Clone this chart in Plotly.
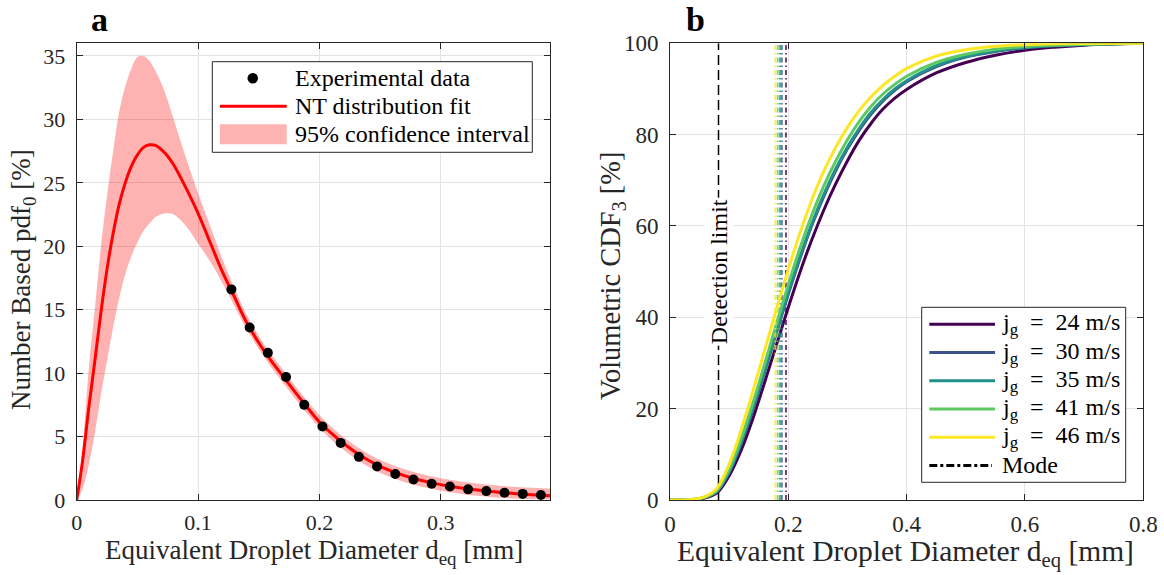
import plotly.graph_objects as go

FONT = "'Liberation Serif', 'Times New Roman', Tinos, 'DejaVu Serif', serif"
DARK = "#262626"
GRID = "#e3e3e3"
W, H = 1164, 575

# ---------------- Panel a data ----------------
pdf_x = [0, 0.005, 0.01, 0.015, 0.02, 0.025, 0.03, 0.035, 0.04, 0.045, 0.05, 0.055,
         0.06, 0.065, 0.07, 0.075, 0.08, 0.09, 0.10, 0.11, 0.12, 0.13, 0.14, 0.15,
         0.16, 0.17, 0.18, 0.19, 0.20, 0.21, 0.22, 0.23, 0.24, 0.25, 0.26, 0.27,
         0.28, 0.29, 0.30, 0.31, 0.32, 0.33, 0.34, 0.35, 0.36, 0.37, 0.38, 0.39]
fit_y = [0, 3.2, 7.3, 11.0, 14.8, 18.2, 21.0, 23.3, 25.0, 26.3, 27.2, 27.8,
         28.0, 27.95, 27.6, 27.1, 26.4, 24.6, 22.6, 20.3, 18.0, 16.0, 14.0, 12.4,
         11.0, 9.75, 8.5, 7.3, 6.15, 5.25, 4.45, 3.75, 3.15, 2.65, 2.25, 1.92,
         1.64, 1.41, 1.21, 1.05, 0.91, 0.79, 0.69, 0.60, 0.52, 0.45, 0.39, 0.34]
ci_upper = [0, 4.3, 10.4, 15.1, 20.0, 24.0, 27.5, 30.6, 32.6, 34.0, 34.9, 35.0,
            34.6, 33.8, 32.8, 31.5, 30.0, 27.0, 24.2, 21.6, 19.0, 16.7, 14.6, 12.95,
            11.5, 10.25, 9.0, 7.8, 6.7, 5.75, 4.95, 4.25, 3.65, 3.15, 2.76, 2.43,
            2.15, 1.92, 1.72, 1.56, 1.42, 1.30, 1.20, 1.11, 1.04, 0.98, 0.94, 0.91]
ci_lower = [0, 0.9, 2.8, 5.3, 8.3, 11.0, 13.6, 15.9, 17.8, 19.2, 20.3, 21.2,
            21.8, 22.3, 22.55, 22.6, 22.5, 21.6, 20.2, 18.8, 17.1, 15.3, 13.45, 11.9,
            10.5, 9.25, 8.0, 6.8, 5.7, 4.75, 3.95, 3.25, 2.65, 2.15, 1.75, 1.42,
            1.14, 0.92, 0.72, 0.57, 0.44, 0.33, 0.24, 0.17, 0.12, 0.08, 0.05, 0.03]
exp_x = [0.1275, 0.1425, 0.1575, 0.1725, 0.1875, 0.2025, 0.2175, 0.2325, 0.2475,
         0.2625, 0.2775, 0.2925, 0.3075, 0.3225, 0.3375, 0.3525, 0.3675, 0.3825]
exp_y = [16.6, 13.6, 11.6, 9.7, 7.5, 5.8, 4.5, 3.4, 2.65, 2.05, 1.62, 1.28,
         1.07, 0.84, 0.70, 0.57, 0.48, 0.40]
legend_a_labels = ["Experimental data", "NT distribution fit", "95% confidence interval"]

# ---------------- Panel b data ----------------
cdf_x = [0, 0.02, 0.04, 0.05, 0.06, 0.07, 0.08, 0.10, 0.12, 0.14, 0.16, 0.18, 0.20,
         0.22, 0.24, 0.26, 0.28, 0.30, 0.32, 0.34, 0.36, 0.38, 0.40, 0.45, 0.50,
         0.55, 0.60, 0.65, 0.70, 0.75, 0.80]
cdf_24 = [0, 0, 0.1, 0.25, 0.5, 0.9, 1.6, 5.3, 10.8, 17.8, 25.8, 34.0, 42.2,
          50.0, 57.1, 63.5, 69.2, 74.3, 78.8, 82.5, 85.6, 88.0, 89.9, 93.5, 95.8,
          97.4, 98.5, 99.15, 99.6, 99.85, 100]
cdf_30 = [0, 0, 0.12, 0.3, 0.6, 1.1, 1.95, 6.0, 12.2, 19.7, 28.0, 36.6, 45.1,
          53.0, 60.2, 66.5, 72.1, 76.9, 81.0, 84.5, 87.4, 89.7, 91.6, 94.9, 97.0,
          98.2, 99.0, 99.45, 99.7, 99.9, 100]
cdf_35 = [0, 0, 0.12, 0.3, 0.62, 1.15, 2.0, 6.2, 12.5, 20.1, 28.4, 37.0, 45.5,
          53.4, 60.6, 66.9, 72.5, 77.3, 81.4, 84.9, 87.7, 90.0, 91.8, 95.1, 97.1,
          98.3, 99.05, 99.5, 99.75, 99.9, 100]
cdf_41 = [0, 0, 0.15, 0.33, 0.68, 1.25, 2.2, 6.7, 13.3, 21.2, 29.8, 38.6, 47.2,
          55.3, 62.5, 68.8, 74.2, 78.9, 82.9, 86.2, 88.9, 91.0, 92.8, 95.8, 97.6,
          98.7, 99.3, 99.6, 99.8, 99.92, 100]
cdf_46 = [0, 0, 0.18, 0.4, 0.8, 1.5, 2.7, 7.8, 15.2, 23.8, 32.8, 41.8, 50.5,
          58.6, 65.8, 72.0, 77.2, 81.6, 85.3, 88.3, 90.8, 92.8, 94.5, 97.2, 98.6,
          99.35, 99.7, 99.88, 99.95, 99.98, 100]
jg_labels = ["24", "30", "35", "41", "46"]
mode_x = [0.196, 0.189, 0.186, 0.182, 0.178]
detection_limit = 0.082
colors = ["#440154", "#3b528b", "#21918c", "#5ec962", "#fde725"]
cdfs = [cdf_24, cdf_30, cdf_35, cdf_41, cdf_46]
MODE_DASH = "5px,3px,1.5px,3px"

fig = go.Figure()

# Panel a
fig.add_trace(go.Scatter(x=pdf_x, y=ci_lower, mode="lines", line=dict(width=0, color="rgba(255,0,0,0)"),
                         hoverinfo="skip", xaxis="x", yaxis="y", line_shape="spline"))
fig.add_trace(go.Scatter(x=pdf_x, y=ci_upper, mode="lines", fill="tonexty",
                         fillcolor="rgba(255,0,0,0.3)", line=dict(width=0, color="rgba(255,0,0,0)"),
                         name=legend_a_labels[2], xaxis="x", yaxis="y", line_shape="spline"))
fig.add_trace(go.Scatter(x=pdf_x, y=fit_y, mode="lines", line=dict(color="#ff0000", width=3),
                         name=legend_a_labels[1], xaxis="x", yaxis="y", line_shape="spline"))
fig.add_trace(go.Scatter(x=exp_x, y=exp_y, mode="markers", marker=dict(color="black", size=10),
                         name=legend_a_labels[0], xaxis="x", yaxis="y"))

# Panel b
fig.add_trace(go.Scatter(x=[detection_limit, detection_limit], y=[0, 100], mode="lines",
                         line=dict(color="black", width=1.5, dash="10px,5px"),
                         xaxis="x2", yaxis="y2"))
for lab, c, cdf, m in zip(jg_labels, colors, cdfs, mode_x):
    fig.add_trace(go.Scatter(x=cdf_x, y=cdf, mode="lines", line=dict(color=c, width=3),
                             line_shape="spline", name=f"jg = {lab} m/s",
                             xaxis="x2", yaxis="y2"))
    fig.add_trace(go.Scatter(x=[m, m], y=[0, 100], mode="lines", opacity=0.75,
                             line=dict(color=c, width=2, dash=MODE_DASH),
                             xaxis="x2", yaxis="y2"))

axis_common = dict(showgrid=True, gridcolor=GRID, gridwidth=1, zeroline=False,
                   showline=True, linecolor=DARK, linewidth=1, mirror="ticks",
                   ticks="inside", ticklen=6, tickcolor=DARK, automargin=False)

yd = [75 / H, 1 - 43.3 / H]
fig.update_layout(
    width=W, height=H, margin=dict(l=0, r=0, t=0, b=0, autoexpand=False),
    paper_bgcolor="white", plot_bgcolor="white", showlegend=False,
    font=dict(family=FONT, color=DARK),
    xaxis=dict(domain=[76.7 / W, 550 / W], range=[0, 0.39], tickvals=[0, 0.1, 0.2, 0.3],
               ticktext=["0", "0.1", "0.2", "0.3"], anchor="y", ticklabelstandoff=3,
               tickfont=dict(family=FONT, size=22, color=DARK), **axis_common),
    yaxis=dict(domain=yd, range=[0, 36], tickvals=[0, 5, 10, 15, 20, 25, 30, 35], anchor="x",
               ticklabelstandoff=6, tickfont=dict(family=FONT, size=22, color=DARK), **axis_common),
    xaxis2=dict(domain=[670 / W, 1143.3 / W], range=[0, 0.8], tickvals=[0, 0.2, 0.4, 0.6, 0.8],
                ticktext=["0", "0.2", "0.4", "0.6", "0.8"], anchor="y2", ticklabelstandoff=3,
                tickfont=dict(family=FONT, size=23, color=DARK), **axis_common),
    yaxis2=dict(domain=yd, range=[0, 100], tickvals=[0, 20, 40, 60, 80, 100], anchor="x2",
                ticklabelstandoff=6, tickfont=dict(family=FONT, size=23, color=DARK), **axis_common),
)


def px(x):
    return x / W


def py(y):
    return 1 - y / H


shapes = []
# ---- legend for panel a ----
shapes.append(dict(type="rect", xref="paper", yref="paper", x0=px(212.3), x1=px(532.3),
                   y0=py(152.3), y1=py(61.7), line=dict(color=DARK, width=1), fillcolor="white",
                   layer="above"))
rows_a = [78.3, 106.3, 134.3]
shapes.append(dict(type="circle", xref="paper", yref="paper", x0=px(247.5), x1=px(258.0),
                   y0=py(rows_a[0] + 5.25), y1=py(rows_a[0] - 5.25), fillcolor="black",
                   line=dict(color="black", width=0), layer="above"))
shapes.append(dict(type="line", xref="paper", yref="paper", x0=px(220), x1=px(286.7),
                   y0=py(rows_a[1]), y1=py(rows_a[1]), line=dict(color="#ff0000", width=3),
                   layer="above"))
shapes.append(dict(type="rect", xref="paper", yref="paper", x0=px(220), x1=px(286.7),
                   y0=py(rows_a[2] + 10), y1=py(rows_a[2] - 10), fillcolor="rgba(255,0,0,0.3)",
                   line=dict(width=0), layer="above"))
for lab, ry in zip(legend_a_labels, rows_a):
    fig.add_annotation(text=lab, xref="paper", yref="paper", x=px(292.5), y=py(ry),
                       xanchor="left", yanchor="middle", showarrow=False,
                       font=dict(family=FONT, size=24, color="black"))

# ---- legend for panel b ----
shapes.append(dict(type="rect", xref="paper", yref="paper", x0=px(921.7), x1=px(1125.7),
                   y0=py(482.3), y1=py(307.3), line=dict(color=DARK, width=1), fillcolor="white",
                   layer="above"))
rows_b = [324.3, 352.5, 380.7, 409.0, 437.2, 465.4]
for lab, c, ry in zip(jg_labels, colors, rows_b):
    shapes.append(dict(type="line", xref="paper", yref="paper", x0=px(929.3), x1=px(995),
                       y0=py(ry), y1=py(ry), line=dict(color=c, width=3), layer="above"))
    fig.add_annotation(text=f"j<sub>g</sub>  =  {lab} m/s", xref="paper", yref="paper",
                       x=px(1000), y=py(ry), xanchor="left", yanchor="middle", showarrow=False,
                       font=dict(family=FONT, size=24, color="black"))
shapes.append(dict(type="line", xref="paper", yref="paper", x0=px(929.3), x1=px(992),
                   y0=py(rows_b[5]), y1=py(rows_b[5]),
                   line=dict(color="black", width=3, dash="8px,3px,3px,3px"), layer="above"))
fig.add_annotation(text="Mode", xref="paper", yref="paper", x=px(1000), y=py(rows_b[5]),
                   xanchor="left", yanchor="middle", showarrow=False,
                   font=dict(family=FONT, size=24, color="black"))
fig.update_layout(shapes=shapes)

fig.add_annotation(text="Equivalent Droplet Diameter d<sub>eq</sub> [mm]", xref="paper", yref="paper",
                   x=px(313.5), y=py(552), showarrow=False,
                   font=dict(family=FONT, size=27, color=DARK),
                   xanchor="center", yanchor="middle")
fig.add_annotation(text="Equivalent Droplet Diameter d<sub>eq</sub> [mm]", xref="paper", yref="paper",
                   x=px(905), y=py(553), showarrow=False,
                   font=dict(family=FONT, size=29.5, color=DARK),
                   xanchor="center", yanchor="middle")
fig.add_annotation(text="Number Based pdf<sub>0</sub> [%]", xref="paper", yref="paper",
                   x=px(23), y=py(280), showarrow=False,
                   font=dict(family=FONT, size=27, color=DARK), textangle=-90,
                   xanchor="center", yanchor="middle")
fig.add_annotation(text="Volumetric CDF<sub>3</sub> [%]", xref="paper", yref="paper",
                   x=px(612), y=py(276), showarrow=False,
                   font=dict(family=FONT, size=28.5, color=DARK), textangle=-90,
                   xanchor="center", yanchor="middle")
fig.add_annotation(text="<b>a</b>", xref="paper", yref="paper", x=px(99), y=1,
                   showarrow=False, font=dict(family=FONT, size=34, color="black"),
                   xanchor="center", yanchor="top", borderpad=0)
fig.add_annotation(text="<b>b</b>", xref="paper", yref="paper", x=px(695.5), y=1,
                   showarrow=False, font=dict(family=FONT, size=34, color="black"),
                   xanchor="center", yanchor="top", borderpad=0)
fig.add_annotation(text="Detection limit", xref="x2", yref="y2", x=detection_limit, y=50,
                   showarrow=False, textangle=-90, bgcolor="white",
                   font=dict(family=FONT, size=24, color="black"), xanchor="center", yanchor="middle")

fig.write_html("out.html")
